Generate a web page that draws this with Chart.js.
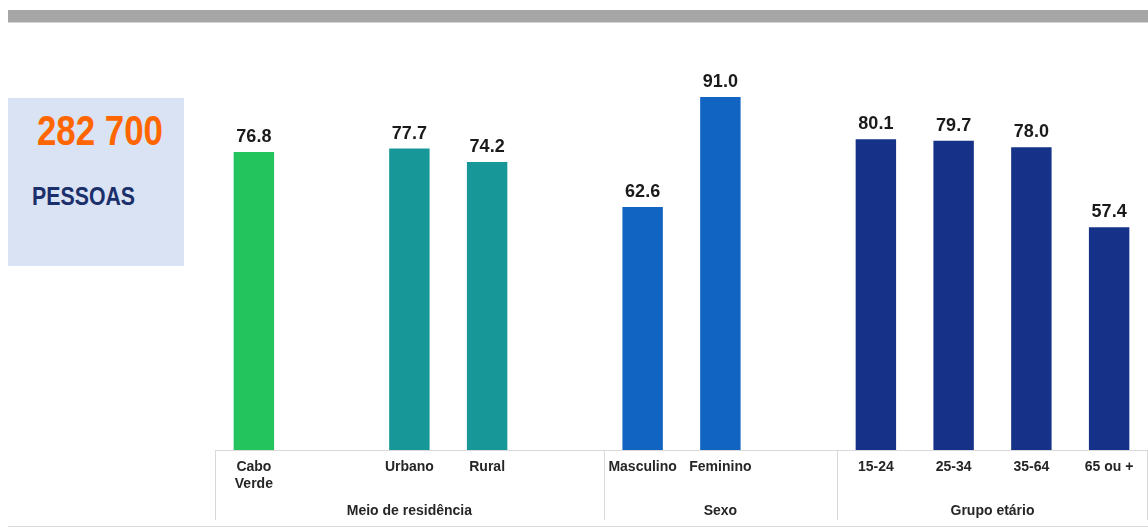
<!DOCTYPE html>
<html lang="pt">
<head>
<meta charset="utf-8">
<title>População por meio de residência, sexo e grupo etário</title>
<script src="https://cdn.jsdelivr.net/npm/chart.js@4/dist/chart.umd.min.js"></script>
<style>
  html, body { margin: 0; padding: 0; background: #ffffff; }
  body { width: 1148px; height: 527px; position: relative; overflow: hidden;
         font-family: "Liberation Sans", Arial, sans-serif; }
  #topband { position: absolute; left: 8px; top: 10px; width: 1140px; height: 12px;
             background: #a6a6a6; border-bottom: 1px solid #d4d4d4; }
  #totalbox { position: absolute; left: 8px; top: 98px; width: 176px; height: 168px;
              background: #dae3f3; }
  #total { position: absolute; left: 0; width: 184px; top: 9px; text-align: center;
           font-weight: bold; font-size: 42px; color: #ff6600; line-height: 48px;
           transform: scaleX(0.83); transform-origin: 92px 0; white-space: nowrap; }
  #unit { position: absolute; left: 24px; top: 83px; font-weight: bold; font-size: 26px;
          color: #1b2f6b; line-height: 30px; transform: scaleX(0.82); transform-origin: 0 0;
          white-space: nowrap; }
  #wrap { position: absolute; left: 0; top: 0; width: 1148px; height: 527px; }
</style>
</head>
<body>
<div id="topband"></div>
<div id="totalbox">
  <div id="total">282 700</div>
  <div id="unit">PESSOAS</div>
</div>
<div id="wrap"><canvas id="chart" width="1148" height="527"></canvas></div>
<script>
// Categories (empty strings are spacer slots between groups)
const categories = [['Cabo', 'Verde'], '', 'Urbano', 'Rural', '', 'Masculino', 'Feminino', '', '15-24', '25-34', '35-64', '65 ou +'];
// Percentages shown above each bar
const values = [76.8, null, 77.7, 74.2, null, 62.6, 91.0, null, 80.1, 79.7, 78.0, 57.4];
// Group titles and the category slots each one spans [first, last+1)
const groupNames = ['Meio de residência', 'Sexo', 'Grupo etário'];
const groupStarts = [0, 5, 8];
const groupEnds = [5, 8, 12];

const barColors = ['#23c35e', null, '#179797', '#179797', null, '#1264c3', '#1264c3', null, '#163288', '#163288', '#163288', '#163288'];

const LINE = '#d9d9d9';
const FONT = '"Liberation Sans", Arial, sans-serif';

// Value labels, category labels, group titles and separators
const annotate = {
  id: 'annotate',
  afterDatasetsDraw(chart) {
    const { ctx, chartArea, scales } = chart;
    const x = scales.x;
    const base = chartArea.bottom;
    const meta = chart.getDatasetMeta(0);

    ctx.save();
    // value labels
    ctx.font = 'bold 18px ' + FONT;
    ctx.fillStyle = '#1a1a1a';
    ctx.textAlign = 'center';
    ctx.textBaseline = 'alphabetic';
    meta.data.forEach((bar, i) => {
      if (values[i] == null) return;
      ctx.fillText(values[i].toFixed(1), bar.x, bar.y - 10);
    });

    // axis line and group separators
    const half = (x.getPixelForValue(1) - x.getPixelForValue(0)) / 2;
    ctx.strokeStyle = LINE;
    ctx.lineWidth = 1;
    ctx.beginPath();
    ctx.moveTo(chartArea.left, base + 0.5);
    ctx.lineTo(chartArea.right - 1, base + 0.5);
    const edges = groupStarts.concat([groupEnds[groupEnds.length - 1]]);
    edges.forEach(idx => {
      let px = Math.round(x.getPixelForValue(idx) - half);
      if (idx === categories.length) px = Math.round(chartArea.right) - 1;
      ctx.moveTo(px + 0.5, base);
      ctx.lineTo(px + 0.5, base + 70);
    });
    ctx.stroke();

    // bottom rule
    ctx.beginPath();
    ctx.moveTo(8, 526.5);
    ctx.lineTo(1148, 526.5);
    ctx.stroke();

    // category labels
    ctx.font = 'bold 14px ' + FONT;
    ctx.fillStyle = '#262626';
    ctx.textBaseline = 'top';
    categories.forEach((lab, i) => {
      const lines = Array.isArray(lab) ? lab : [lab];
      lines.forEach((ln, k) => {
        if (ln) ctx.fillText(ln, x.getPixelForValue(i), base + 10 + k * 17);
      });
    });

    // group titles
    groupNames.forEach((name, g) => {
      const left = x.getPixelForValue(groupStarts[g]) - half;
      const right = x.getPixelForValue(groupEnds[g] - 1) + half;
      ctx.fillText(name, (left + right) / 2, base + 54);
    });
    ctx.restore();
  }
};

new Chart(document.getElementById('chart'), {
  type: 'bar',
  data: {
    labels: categories,
    datasets: [{
      data: values,
      backgroundColor: barColors,
      borderWidth: 0,
      categoryPercentage: 1,
      barPercentage: 0.52
    }]
  },
  options: {
    responsive: false,
    animation: false,
    devicePixelRatio: 1,
    layout: { padding: { left: 215, right: 0, top: 62, bottom: 77 } },
    plugins: { legend: { display: false }, tooltip: { enabled: false } },
    scales: {
      x: { display: false },
      y: { display: false, min: 0, max: 100 }
    }
  },
  plugins: [annotate]
});
</script>
</body>
</html>
